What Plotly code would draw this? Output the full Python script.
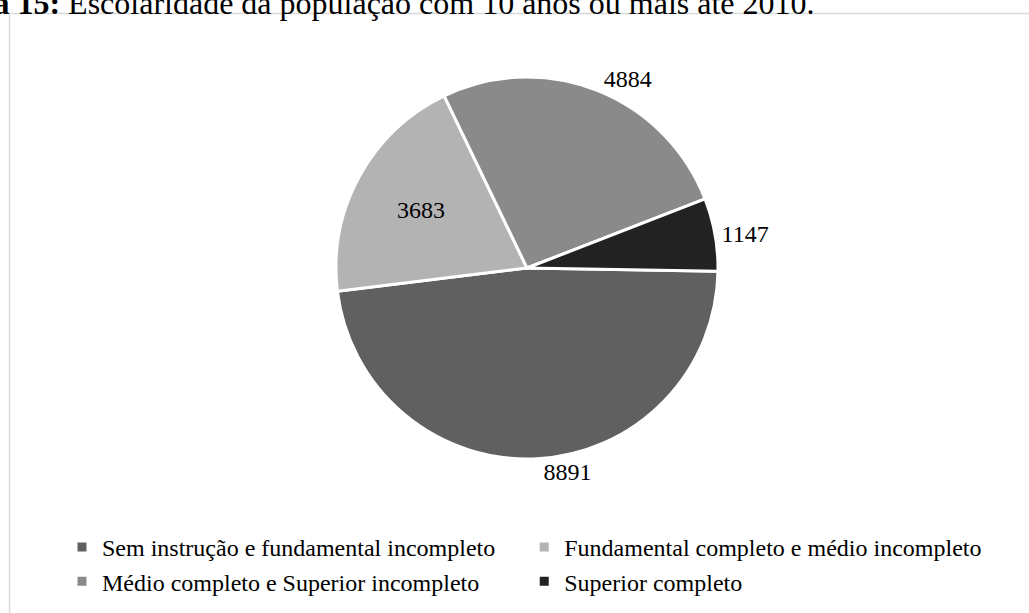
import plotly.graph_objects as go

categorias = [
    "Sem instrução e fundamental incompleto",
    "Fundamental completo e médio incompleto",
    "Médio completo e Superior incompleto",
    "Superior completo",
]
populacao = [8891, 3683, 4884, 1147]
cores = ["#606060", "#b3b3b3", "#8a8a8a", "#222222"]
posicao_rotulo = ["outside", "inside", "outside", "outside"]

titulo_bold = "Figura 15:"
titulo = " Escolaridade da população com 10 anos ou mais até 2010."

W, H = 1029, 613
cx, cy, R = 527, 268, 191

fig = go.Figure(
    go.Pie(
        labels=categorias,
        values=populacao,
        sort=False,
        direction="clockwise",
        rotation=91,
        marker=dict(colors=cores, line=dict(color="white", width=3)),
        textinfo="value",
        textposition=posicao_rotulo,
        textfont=dict(family="Liberation Serif", size=24, color="black"),
        insidetextfont=dict(family="Liberation Serif", size=24, color="black"),
        outsidetextfont=dict(family="Liberation Serif", size=24, color="black"),
        domain=dict(
            x=[(cx - R) / W, (cx + R) / W],
            y=[(H - cy - R) / H, (H - cy + R) / H],
        ),
        hoverinfo="label+value",
    )
)

fig.update_layout(
    width=W,
    height=H,
    margin=dict(l=0, r=0, t=0, b=0),
    paper_bgcolor="white",
    plot_bgcolor="white",
    font=dict(family="Liberation Serif", size=24, color="black"),
    showlegend=True,
    legend=dict(
        orientation="h",
        x=62 / W,
        xanchor="left",
        y=1 - 525 / H,
        yanchor="top",
        font=dict(family="Liberation Serif", size=24, color="black"),
        traceorder="normal",
    ),
    shapes=[
        dict(
            type="rect",
            xref="paper",
            yref="paper",
            x0=9.5 / W,
            x1=1.02,
            y0=-0.02,
            y1=1 - 13.5 / H,
            line=dict(color="#d9d9d9", width=1.5),
            fillcolor="rgba(0,0,0,0)",
            layer="below",
        )
    ],
    annotations=[
        dict(
            text="<b>" + titulo_bold + "</b>" + titulo,
            xref="paper",
            yref="paper",
            x=817 / W,
            xanchor="right",
            y=1 - 23 / H,
            yanchor="bottom",
            showarrow=False,
            font=dict(family="Liberation Serif", size=32, color="black"),
        )
    ],
)

fig.write_html("out.html")
